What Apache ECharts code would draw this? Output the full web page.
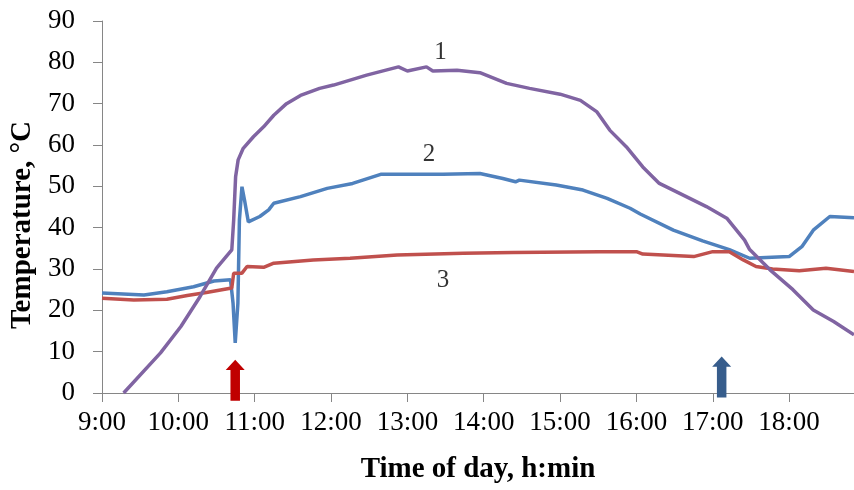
<!DOCTYPE html>
<html>
<head>
<meta charset="utf-8">
<script src="https://cdn.jsdelivr.net/npm/echarts@6/dist/echarts.min.js"></script>
<style>html,body{margin:0;padding:0;background:#fff}#c{width:854px;height:490px}</style>
</head>
<body>
<div id="c"></div>
<script>
// Tick labels (time of day)
var tickLabels = ['9:00','10:00','11:00','12:00','13:00','14:00','15:00','16:00','17:00','18:00'];
// Curve 1 (purple): minutes since midnight, temperature
var s1Times = [557,586,602,617,630,642,643.5,645,647,651,659,667,675,685,696,711,722,735,748,773,780,795,800,819,837,858,876,900,916,929,939,952,965,978,994,1015,1031,1045,1049,1065,1083,1099,1115,1131];
var s1Vals  = [0,9.7,16.1,23.3,30.2,34.6,41.9,52.3,56.4,59.2,62,64.4,67.2,70,72,73.7,74.5,75.7,76.9,78.9,77.9,78.9,77.9,78.1,77.5,74.9,73.7,72.3,70.8,68,63.6,59.6,54.7,50.7,48.3,45.1,42.3,37,34.7,29.8,25,20.1,17.3,14.1];
// Curve 2 (blue)
var s2Times = [540,573,591,612,628,641,643,644.7,646.8,648,650,652,655,664,671,675,696,717,737,759,785,808,837,855,865,868,897,918,937,955,963,989,1012,1033,1049,1062,1080,1090,1099,1112,1131];
var s2Vals  = [24.2,23.7,24.5,25.7,27.1,27.4,21.7,12.1,21.7,41.9,49.9,46.7,41.4,42.7,44.3,45.9,47.5,49.5,50.7,52.9,52.9,52.9,53.1,51.9,51.1,51.5,50.3,49.1,47.1,44.7,43.3,39.4,36.8,34.7,32.6,32.8,33,35.4,39.4,42.7,42.4];
// Curve 3 (red)
var s3Times = [540,565,591,607,622,642,643.5,650,654,667,675,706,735,772,824,863,931,960,965,1005,1020,1033,1044,1054,1067,1088,1109,1131];
var s3Vals  = [22.9,22.5,22.7,23.6,24.3,25.4,29,29,30.6,30.4,31.4,32.2,32.6,33.4,33.8,34,34.2,34.2,33.6,33,34.2,34.2,32.2,30.6,30,29.6,30.2,29.4];
// Curve labels
var labelTexts = ['1','2','3'];
var labelTimes = [806,797,808];
var labelVals  = [82.5,57.6,27.3];
// Arrows (event markers)
var arrowTimes = [644.7,1027];
var arrowVals  = [3.1,3.9];
var arrowColors = ['#C00000','#375D8C'];

function toMin(s){var p=s.split(':');return +p[0]*60+ +p[1];}
function fmt(v){var h=Math.floor(v/60),m=Math.round(v-h*60);return h+':'+(m<10?'0':'')+m;}
function zip(a,b){return a.map(function(t,i){return [t,b[i]];});}
var tickVals = tickLabels.map(toMin);
var font = 'Liberation Serif';
var arrowPath = 'path://M10,0 L20,10 L15,10 L15,40 L5,40 L5,10 L0,10 Z';

var chart = echarts.init(document.getElementById('c'), null, {renderer:'canvas'});
chart.setOption({
  animation:false,
  backgroundColor:'#fff',
  grid:{left:102,right:0,top:21,bottom:97},
  xAxis:{
    type:'value', min:540, max:1131, interval:60,
    name:'Time of day, h:min', nameLocation:'middle', nameGap:62,
    nameTextStyle:{fontFamily:font,fontWeight:'bold',fontSize:29,color:'#000'},
    axisLine:{lineStyle:{color:'#868686',width:1}},
    axisTick:{show:true,length:9,customValues:tickVals,lineStyle:{color:'#868686'}},
    axisLabel:{customValues:tickVals,formatter:function(v){return fmt(v);},fontFamily:font,fontSize:27,color:'#000',margin:16},
    splitLine:{show:false}
  },
  yAxis:{
    type:'value', min:0, max:90, interval:10,
    name:'Temperature, °C', nameLocation:'middle', nameGap:58,
    nameTextStyle:{fontFamily:font,fontWeight:'bold',fontSize:29,color:'#000',padding:[0,36,0,0]},
    axisLine:{show:true,lineStyle:{color:'#868686',width:1}},
    axisTick:{show:true,length:9,lineStyle:{color:'#868686'}},
    axisLabel:{fontFamily:font,fontSize:27,color:'#000',margin:27},
    splitLine:{show:false}
  },
  series:[
    {type:'line',name:'2',data:zip(s2Times,s2Vals),showSymbol:false,symbol:'none',lineStyle:{color:'#4F81BD',width:3.5},z:2},
    {type:'line',name:'3',data:zip(s3Times,s3Vals),showSymbol:false,symbol:'none',lineStyle:{color:'#C0504D',width:3.5},z:3},
    {type:'line',name:'1',data:zip(s1Times,s1Vals),showSymbol:false,symbol:'none',lineStyle:{color:'#8064A2',width:3.5},z:4},
    {type:'scatter',name:'labels',symbolSize:0,z:5,
      data:labelTimes.map(function(t,i){return {value:[t,labelVals[i]],label:{show:true,position:'inside',formatter:labelTexts[i],fontFamily:font,fontSize:25,color:'#000'}};})},
    {type:'scatter',name:'arrows',clip:false,z:6,symbol:arrowPath,symbolSize:[19,41],
      data:arrowTimes.map(function(t,i){return {value:[t,arrowVals[i]],itemStyle:{color:arrowColors[i],opacity:1}};})}
  ]
});
</script>
</body>
</html>
